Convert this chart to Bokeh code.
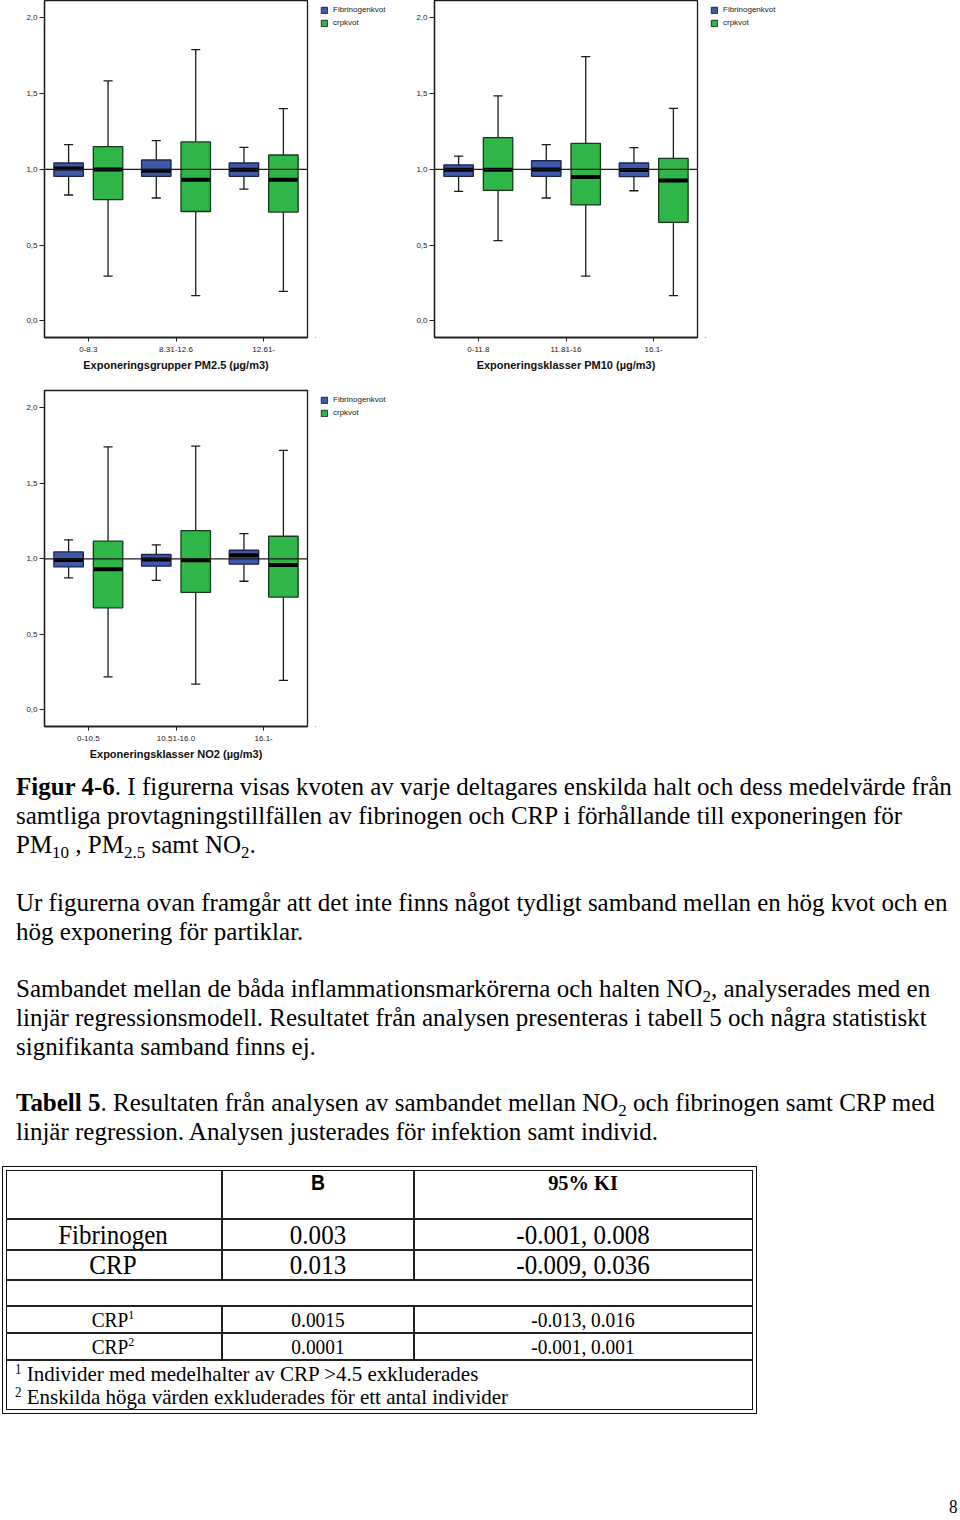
from bokeh.plotting import figure
from bokeh.models import (ColumnDataSource, FactorRange, Range1d, Span, Legend,
                          LegendItem, FixedTicker, Div)
from bokeh.transform import dodge
from bokeh.layouts import column, row
from bokeh.embed import file_html
from bokeh.resources import INLINE

# ---------------- data ----------------
series_names = ["Fibrinogenkvot", "crpkvot"]
y_ticks = [0.0, 0.5, 1.0, 1.5, 2.0]
y_tick_labels = ["0,0", "0,5", "1,0", "1,5", "2,0"]

pm25_groups = ["0-8.3", "8.31-12.6", "12.61-"]
pm25_fib_low = [0.831, 0.811, 0.870]
pm25_fib_q1 = [0.954, 0.954, 0.954]
pm25_fib_med = [1.005, 0.991, 0.998]
pm25_fib_q3 = [1.042, 1.062, 1.042]
pm25_fib_high = [1.163, 1.190, 1.145]
pm25_crp_low = [0.295, 0.167, 0.194]
pm25_crp_q1 = [0.800, 0.722, 0.718]
pm25_crp_med = [1.000, 0.932, 0.932]
pm25_crp_q3 = [1.150, 1.181, 1.095]
pm25_crp_high = [1.584, 1.791, 1.401]

pm10_groups = ["0-11.8", "11.81-16", "16.1-"]
pm10_fib_low = [0.855, 0.811, 0.859]
pm10_fib_q1 = [0.954, 0.954, 0.952]
pm10_fib_med = [0.998, 1.000, 0.996]
pm10_fib_q3 = [1.029, 1.057, 1.042]
pm10_fib_high = [1.088, 1.163, 1.143]
pm10_crp_low = [0.529, 0.295, 0.167]
pm10_crp_q1 = [0.861, 0.765, 0.650]
pm10_crp_med = [0.998, 0.949, 0.927]
pm10_crp_q3 = [1.209, 1.172, 1.073]
pm10_crp_high = [1.485, 1.745, 1.403]

no2_groups = ["0-10.5", "10.51-16.0", "16.1-"]
no2_fib_low = [0.874, 0.857, 0.852]
no2_fib_q1 = [0.947, 0.952, 0.965]
no2_fib_med = [0.993, 0.996, 1.024]
no2_fib_q3 = [1.046, 1.029, 1.057]
no2_fib_high = [1.126, 1.093, 1.167]
no2_crp_low = [0.218, 0.170, 0.196]
no2_crp_q1 = [0.676, 0.778, 0.747]
no2_crp_med = [0.932, 0.991, 0.960]
no2_crp_q3 = [1.117, 1.187, 1.150]
no2_crp_high = [1.742, 1.747, 1.718]

table_labels = ["Fibrinogen", "CRP", "CRP<span class='sp'>1</span>", "CRP<span class='sp'>2</span>"]
table_b = ["0.003", "0.013", "0.0015", "0.0001"]
table_ki = ["-0.001, 0.008", "-0.009, 0.036", "-0.013, 0.016", "-0.001, 0.001"]
table_header = ["B", "95% KI"]
footnotes = ["Individer med medelhalter av CRP >4.5 exkluderades",
             "Enskilda höga värden exkluderades för ett antal individer"]

# ---------------- style ----------------
BLUE, BLUE_EDGE = "#3e58aa", "#1c2550"
GREEN, GREEN_EDGE = "#2fb548", "#173a1d"
INK = "#1a1a1a"
SANS = "Liberation Sans"
SERIF = "Liberation Serif"
FIG_H = 385


def box_chart(groups, fib, crp, xlabel, top_border, frame_h):
    src = ColumnDataSource(dict(
        g=groups,
        f_lo=fib[0], f_q1=fib[1], f_md=fib[2], f_q3=fib[3], f_hi=fib[4],
        c_lo=crp[0], c_q1=crp[1], c_md=crp[2], c_q3=crp[3], c_hi=crp[4]))
    p = figure(width=309, height=FIG_H, title=None,
               x_range=FactorRange(factors=groups, range_padding=0),
               y_range=Range1d(-0.11, 2.115),
               output_backend="svg", toolbar_location=None, tools="",
               min_border_left=44, min_border_right=2,
               min_border_top=top_border, min_border_bottom=FIG_H - top_border - frame_h)
    p.grid.visible = False
    p.outline_line_color = INK
    p.outline_line_width = 1.3
    p.background_fill_color = "white"
    p.border_fill_color = "white"

    for pre, off, fill, edge in [("f", -0.225, BLUE, BLUE_EDGE), ("c", 0.225, GREEN, GREEN_EDGE)]:
        xc = dodge("g", off, range=p.x_range)
        for a, b in [("q3", "hi"), ("q1", "lo")]:
            p.segment(x0=xc, x1=xc, y0=f"{pre}_{a}", y1=f"{pre}_{b}", source=src,
                      line_color=INK, line_width=1.3)
            p.segment(x0=dodge("g", off - 0.052, range=p.x_range),
                      x1=dodge("g", off + 0.052, range=p.x_range),
                      y0=f"{pre}_{b}", y1=f"{pre}_{b}", source=src,
                      line_color=INK, line_width=1.3)
        p.vbar(x=xc, width=0.336, top=f"{pre}_q3", bottom=f"{pre}_q1", source=src,
               fill_color=fill, line_color=edge, line_width=1.3)
        p.segment(x0=dodge("g", off - 0.165, range=p.x_range),
                  x1=dodge("g", off + 0.165, range=p.x_range),
                  y0=f"{pre}_md", y1=f"{pre}_md", source=src,
                  line_color="black", line_width=4, line_cap="butt")

    p.add_layout(Span(location=1.0, dimension="width", line_color=INK, line_width=1.2))

    p.yaxis.ticker = FixedTicker(ticks=y_ticks)
    p.yaxis.major_label_overrides = {t: l for t, l in zip(y_ticks, y_tick_labels)}
    p.yaxis.minor_tick_line_color = None
    for ax in (p.xaxis[0], p.yaxis[0]):
        ax.axis_line_color = INK
        ax.axis_line_width = 1.3
        ax.major_tick_line_color = INK
        ax.major_tick_in = 0
        ax.major_label_text_font = SANS
        ax.major_label_text_font_size = "8px"
        ax.major_label_text_color = "#222"
    p.yaxis.major_tick_out = 5
    p.yaxis.major_label_standoff = 2
    p.xaxis.major_tick_out = 4
    p.xaxis.major_label_standoff = 5
    p.xaxis.axis_label = xlabel
    p.xaxis.axis_label_text_font = SANS
    p.xaxis.axis_label_text_font_size = "11px"
    p.xaxis.axis_label_text_font_style = "bold"
    p.xaxis.axis_label_text_color = "#111"
    p.xaxis.axis_label_standoff = 4
    return p


def legend_panel(top_border, frame_h):
    """Narrow figure to the right of a chart holding its series legend."""
    q = figure(width=81, height=FIG_H, x_range=Range1d(0, 1), y_range=Range1d(0, 1),
               output_backend="svg", toolbar_location=None, tools="", title=None,
               min_border_left=6, min_border_top=top_border, min_border_right=0,
               min_border_bottom=FIG_H - top_border - frame_h)
    q.axis.visible = False
    q.grid.visible = False
    q.outline_line_color = None
    q.background_fill_color = "white"
    q.border_fill_color = "white"
    # legend swatches only: the single point lies far outside the visible range
    rb = q.vbar(x=[-100], top=[-100], bottom=[-101], width=0.1,
                fill_color=BLUE, line_color=BLUE_EDGE, line_width=1)
    rg = q.vbar(x=[-100], top=[-100], bottom=[-101], width=0.1,
                fill_color=GREEN, line_color=GREEN_EDGE, line_width=1)
    leg = Legend(items=[LegendItem(label=series_names[0], renderers=[rb]),
                        LegendItem(label=series_names[1], renderers=[rg])],
                 location="top_left", margin=5, padding=0,
                 border_line_color=None, background_fill_alpha=0,
                 glyph_width=8, glyph_height=8, label_height=8, spacing=4,
                 label_standoff=5, label_text_font=SANS, label_text_font_size="8px",
                 label_text_color="#222")
    q.add_layout(leg, "center")
    return q


def pack(*arrs):
    return list(arrs)


fig1 = box_chart(pm25_groups,
                 pack(pm25_fib_low, pm25_fib_q1, pm25_fib_med, pm25_fib_q3, pm25_fib_high),
                 pack(pm25_crp_low, pm25_crp_q1, pm25_crp_med, pm25_crp_q3, pm25_crp_high),
                 "Exponeringsgrupper PM2.5 (µg/m3)", 0, 337)
fig2 = box_chart(pm10_groups,
                 pack(pm10_fib_low, pm10_fib_q1, pm10_fib_med, pm10_fib_q3, pm10_fib_high),
                 pack(pm10_crp_low, pm10_crp_q1, pm10_crp_med, pm10_crp_q3, pm10_crp_high),
                 "Exponeringsklasser PM10 (µg/m3)", 0, 337)
fig3 = box_chart(no2_groups,
                 pack(no2_fib_low, no2_fib_q1, no2_fib_med, no2_fib_q3, no2_fib_high),
                 pack(no2_crp_low, no2_crp_q1, no2_crp_med, no2_crp_q3, no2_crp_high),
                 "Exponeringsklasser NO2 (µg/m3)", 5, 336)

# ---------------- text block ----------------
DIV_TOP = 770
DIV_H = 750
FV, FH = 25.3, 25.0


def sub(t):
    return f"<span style='font-size:0.68em;position:relative;top:0.3em'>{t}</span>"


def line(x, base, html, fv=FV, fh=FH, weight="normal", center=False, font=SERIF):
    top = base - 0.9375 * fv - DIV_TOP
    s = fh / fv
    tr = f"scaleX({s:.3f}) translateX(-50%)" if center else f"scaleX({s:.3f})"
    return (f"<div style=\"position:absolute;left:{x}px;top:{top:.1f}px;font-family:'{font}';"
            f"font-size:{fv}px;line-height:1.2;white-space:nowrap;font-weight:{weight};"
            f"transform:{tr};transform-origin:0 0;color:#000\">{html}</div>")


def rect(x0, y0, x1, y1, border=None, fill=None):
    st = f"position:absolute;left:{x0}px;top:{y0 - DIV_TOP}px;width:{x1 - x0}px;height:{y1 - y0}px;box-sizing:border-box;"
    if border:
        st += f"border:{border};"
    if fill:
        st += f"background:{fill};"
    return f"<div style=\"{st}\"></div>"


parts = []
LX = 16
parts.append(line(LX, 795, "<b>Figur 4-6</b>. I figurerna visas kvoten av varje deltagares enskilda halt och dess medelvärde från"))
parts.append(line(LX, 824, "samtliga provtagningstillfällen av fibrinogen och CRP i förhållande till exponeringen för"))
parts.append(line(LX, 853, f"PM{sub('10')} , PM{sub('2.5')} samt NO{sub('2')}."))
parts.append(line(LX, 911, "Ur figurerna ovan framgår att det inte finns något tydligt samband mellan en hög kvot och en"))
parts.append(line(LX, 940, "hög exponering för partiklar."))
parts.append(line(LX, 997, f"Sambandet mellan de båda inflammationsmarkörerna och halten NO{sub('2')}, analyserades med en"))
parts.append(line(LX, 1026, "linjär regressionsmodell. Resultatet från analysen presenteras i tabell 5 och några statistiskt"))
parts.append(line(LX, 1055, "signifikanta samband finns ej."))
parts.append(line(LX, 1111, f"<b>Tabell 5</b>. Resultaten från analysen av sambandet mellan NO{sub('2')} och fibrinogen samt CRP med"))
parts.append(line(LX, 1140, "linjär regression. Analysen justerades för infektion samt individ."))

parts.append(rect(2, 1166, 757, 1414, border="1.5px solid #111"))
parts.append(rect(6, 1170, 753, 1410, border="1.5px solid #111"))
for yy in [1218, 1249, 1279, 1305, 1332, 1359]:
    parts.append(rect(6, yy, 753, yy + 2, fill="#222"))
for xx in [221, 413]:
    parts.append(rect(xx, 1170, xx + 2, 1280, fill="#222"))
    parts.append(rect(xx, 1305, xx + 2, 1360, fill="#222"))

C1, C2, C3 = 113, 318, 583
parts.append(line(C2, 1190, table_header[0], fv=21.7, fh=19.4, weight="bold", center=True, font=SANS))
parts.append(line(C3, 1190, table_header[1], fv=21.7, fh=20.4, weight="bold", center=True))
row_base = [1244, 1274, 1327, 1354]
row_fv = [28, 28, 21.7, 21.7]
row_fh = [25, 25, 19.4, 19.4]
for lab, b, ki, yb, fv, fh in zip(table_labels, table_b, table_ki, row_base, row_fv, row_fh):
    parts.append(line(C1, yb, lab, fv=fv, fh=fh, center=True))
    parts.append(line(C2, yb, b, fv=fv, fh=fh, center=True))
    parts.append(line(C3, yb, ki, fv=fv, fh=fh, center=True))
for i, (fn, yb) in enumerate(zip(footnotes, [1382, 1405])):
    parts.append(line(15, yb, f"<span class='sp'>{i + 1}</span> {fn}", fv=22, fh=21))

parts.append(line(949, 1514, "8", fv=19, fh=17))

css = "<style>.sp{font-size:0.62em;position:relative;top:-0.55em}</style>"
html = css + f"<div style='position:relative;width:960px;height:{DIV_H}px'>" + "".join(parts) + "</div>"
text_div = Div(text=html, width=960, height=DIV_H, margin=0)

layout = column(row(fig1, legend_panel(0, 337), fig2, legend_panel(0, 337)),
                row(fig3, legend_panel(5, 336)),
                text_div,
                styles={"position": "absolute", "left": "0px", "top": "0px"})

open("out.html", "w").write(file_html(layout, INLINE))
